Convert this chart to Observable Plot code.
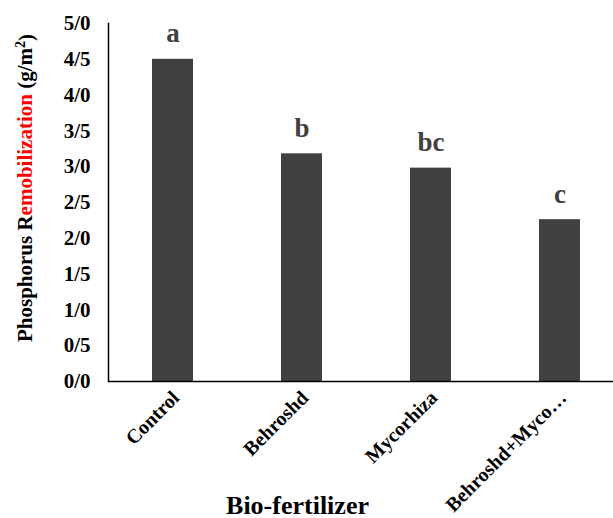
<!DOCTYPE html>
<html>
<head>
<meta charset="utf-8">
<script src="https://cdn.jsdelivr.net/npm/d3@7"></script>
<script src="https://cdn.jsdelivr.net/npm/@observablehq/plot@0.6"></script>
<style>
  html, body { margin: 0; padding: 0; background: white; }
</style>
</head>
<body>
<div id="chart"></div>
<script>
const categories = ["Control", "Behroshd", "Mycorhiza", "Behroshd+Myco…"];
const values = [4.5, 3.18, 2.98, 2.26];
const letters = ["a", "b", "bc", "c"];
const yTicks = [0, 0.5, 1, 1.5, 2, 2.5, 3, 3.5, 4, 4.5, 5];
const xTitle = "Bio-fertilizer";

const data = categories.map((c, i) => ({cat: c, value: values[i], letter: letters[i]}));
const fmt = d => d.toFixed(1).replace(".", "/");
const serif = "'Liberation Serif', 'Times New Roman', serif";

const chart = Plot.plot({
  width: 613,
  height: 518,
  marginLeft: 108,
  marginTop: 23,
  marginBottom: 137,
  marginRight: 0,
  style: {fontFamily: serif, fontWeight: "bold", fontSize: "21px", background: "white", color: "black"},
  x: {domain: categories, range: [108, 624], paddingInner: 0.685, paddingOuter: 0.3425, label: null},
  y: {domain: [0, 5], label: null},
  marks: [
    Plot.barY(data, {x: "cat", y: "value", fill: "#404040"}),
    Plot.text(data, {x: "cat", y: "value", text: "letter", lineAnchor: "bottom", dy: -17, fontSize: 27, fill: "#404040", fontWeight: "bold"}),
    Plot.axisY({ticks: yTicks, tickFormat: fmt, tickSize: 0, tickPadding: 18, fontSize: 21, label: null}),
    Plot.axisX({tickSize: 0, tickRotate: -45, tickPadding: 13, dx: 3, fontSize: 20, label: null}),
    Plot.ruleY([0], {stroke: "black", strokeWidth: 1.5}),
    Plot.frame({anchor: "left", stroke: "black", strokeWidth: 1.5}),
    Plot.text([xTitle], {frameAnchor: "bottom-left", dx: 189, dy: 132, lineAnchor: "bottom", textAnchor: "middle", fontSize: 26, fontWeight: "bold"})
  ]
});

const svg = d3.select(chart);
const lab = svg.append("text")
  .attr("transform", "translate(25,188) rotate(-90)")
  .attr("text-anchor", "middle")
  .attr("dy", "0.35em")
  .style("font-family", serif)
  .style("font-weight", "bold")
  .style("font-size", "21px")
  .attr("fill", "black");
lab.append("tspan").text("Phosphorus R");
lab.append("tspan").attr("fill", "#ff0000").text("emobilization");
lab.append("tspan").text(" (g/m");
lab.append("tspan").attr("font-size", "14px").attr("dy", "-0.5em").text("2");
lab.append("tspan").attr("dy", "0.35em").text(")");

document.getElementById("chart").append(chart);
</script>
</body>
</html>
